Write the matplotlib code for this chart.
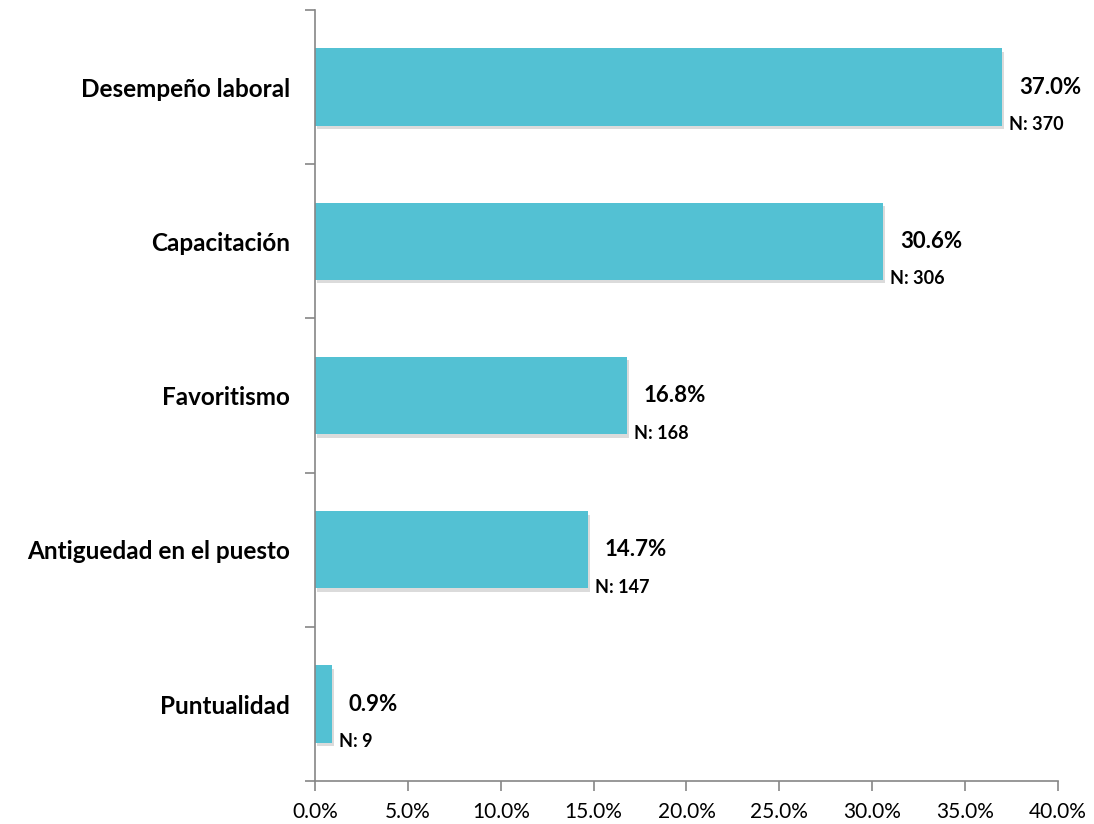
import matplotlib
matplotlib.use('Agg')
import matplotlib.pyplot as plt
import matplotlib.patheffects as pe
from matplotlib.ticker import FuncFormatter, MultipleLocator

# Data
categories = ["Desempeño laboral", "Capacitación", "Favoritismo",
              "Antiguedad en el puesto", "Puntualidad"]
percentages = [37.0, 30.6, 16.8, 14.7, 0.9]
counts = [370, 306, 168, 147, 9]

plt.rcParams['font.family'] = ['Lato', 'DejaVu Sans']

bar_color = "#53C1D3"
axis_color = "#868686"

fig = plt.figure(figsize=(10.94, 8.24), dpi=100)
ax = fig.add_axes([0.288, 0.052, 0.679, 0.936])

ypos = list(range(len(categories)))[::-1]
bars = ax.barh(ypos, percentages, height=0.5, color=bar_color, zorder=2)
for b in bars:
    b.set_path_effects([pe.SimplePatchShadow(offset=(1.5, -2.5), shadow_rgbFace='#888888', alpha=0.3),
                        pe.Normal()])

# value labels
for y, p, n in zip(ypos, percentages, counts):
    ax.annotate(f"{p:.1f}%", xy=(p, y), xytext=(12, 0), textcoords='offset points',
                ha='left', va='center', fontsize=16, fontweight='bold', color='black')
    ax.annotate(f"N: {n}", xy=(p, y), xytext=(5, -27), textcoords='offset points',
                ha='left', va='center', fontsize=13, fontweight='bold', color='black')

ax.set_xlim(0, 40)
ax.set_ylim(-0.5, 4.5)
ax.xaxis.set_major_locator(MultipleLocator(5))
ax.xaxis.set_major_formatter(FuncFormatter(lambda v, _: f"{v:.1f}%"))
ax.set_yticks([-0.5, 0.5, 1.5, 2.5, 3.5, 4.5])
ax.set_yticklabels([])
ax.set_yticks(ypos, minor=True)
ax.set_yticklabels(categories, minor=True)
ax.tick_params(axis='y', which='minor', length=0, pad=18, labelsize=17.5)
for lab in ax.get_yticklabels(minor=True):
    lab.set_fontweight('bold')
ax.tick_params(axis='y', which='major', length=7, color=axis_color, width=1.2)
ax.tick_params(axis='x', length=7, color=axis_color, width=1.2, labelsize=15, pad=8)

for s in ['top', 'right']:
    ax.spines[s].set_visible(False)
for s in ['left', 'bottom']:
    ax.spines[s].set_color(axis_color)
    ax.spines[s].set_linewidth(1.2)

fig.savefig("out.png", dpi=100)
